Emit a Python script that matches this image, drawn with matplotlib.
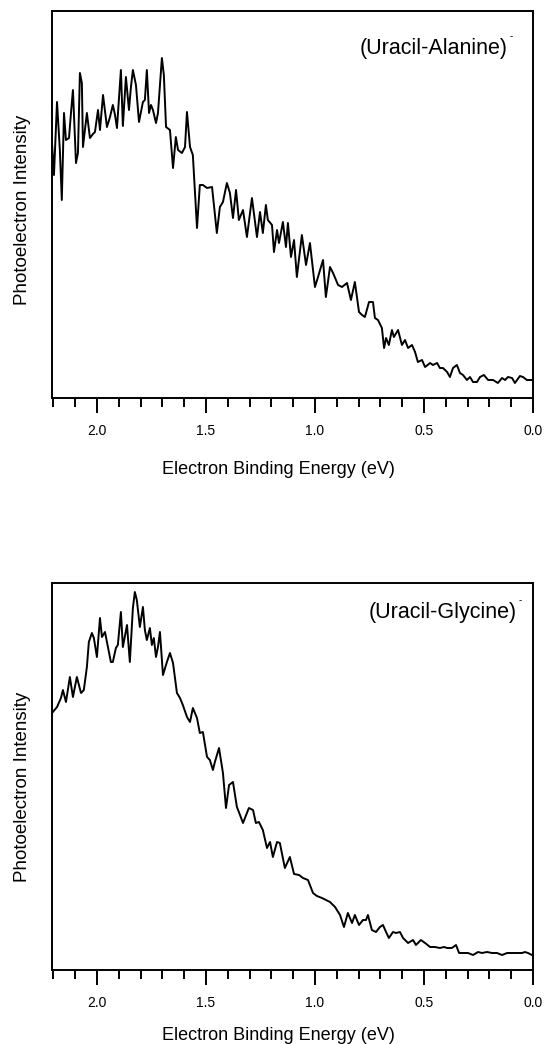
"""
Photoelectron spectra of (Uracil-Alanine)- and (Uracil-Glycine)- anions.
Two stacked panels, binding energy axis reversed (2.2 -> 0 eV).
"""

import matplotlib
matplotlib.use('Agg')
import matplotlib.pyplot as plt
from matplotlib.ticker import MultipleLocator

plt.rcParams['font.family'] = ['Liberation Sans', 'DejaVu Sans']

# ── Data (intensity in arbitrary units) ──────────────────────────
ala_energy = [
    2.206, 2.197, 2.183, 2.170, 2.161, 2.151, 2.142, 2.128, 2.119, 2.110,
    2.096, 2.087, 2.078, 2.069, 2.064, 2.046, 2.032, 2.018, 2.009, 1.995,
    1.986, 1.972, 1.954, 1.940, 1.927, 1.917, 1.908, 1.890, 1.881, 1.867,
    1.853, 1.844, 1.835, 1.821, 1.807, 1.789, 1.780, 1.771, 1.761, 1.752,
    1.743, 1.729, 1.720, 1.702, 1.693, 1.683, 1.665, 1.651, 1.638, 1.628,
    1.610, 1.596, 1.587, 1.573, 1.560, 1.541, 1.528, 1.514, 1.495, 1.472,
    1.450, 1.436, 1.422, 1.404, 1.390, 1.376, 1.362, 1.349, 1.330, 1.312,
    1.289, 1.266, 1.252, 1.239, 1.225, 1.216, 1.197, 1.188, 1.174, 1.165,
    1.147, 1.133, 1.124, 1.110, 1.096, 1.083, 1.060, 1.041, 1.023, 1.000,
    0.986, 0.963, 0.950, 0.931, 0.917, 0.894, 0.876, 0.853, 0.835, 0.817,
    0.798, 0.784, 0.771, 0.752, 0.734, 0.725, 0.711, 0.693, 0.683, 0.674,
    0.661, 0.647, 0.638, 0.619, 0.601, 0.587, 0.573, 0.555, 0.541, 0.528,
    0.509, 0.495, 0.472, 0.459, 0.440, 0.427, 0.413, 0.394, 0.381, 0.367,
    0.349, 0.335, 0.321, 0.303, 0.289, 0.275, 0.257, 0.243, 0.225, 0.206,
    0.183, 0.161, 0.142, 0.128, 0.115, 0.096, 0.083, 0.060, 0.046, 0.028,
    0.005,
]
ala_intensity = [
    255, 223, 296, 248, 198, 285, 258, 260, 285, 308,
    235, 245, 325, 315, 251, 285, 260, 264, 266, 288,
    268, 303, 271, 281, 293, 283, 270, 328, 272, 321,
    288, 311, 328, 313, 276, 296, 298, 328, 285, 293,
    288, 275, 285, 340, 323, 271, 268, 230, 261, 248,
    245, 251, 286, 251, 243, 170, 213, 213, 210, 211,
    165, 191, 196, 215, 205, 180, 208, 178, 188, 161,
    200, 161, 186, 165, 193, 178, 173, 146, 168, 155,
    176, 151, 175, 141, 158, 121, 163, 133, 155, 111,
    121, 138, 101, 131, 125, 113, 111, 115, 98, 116,
    86, 83, 81, 96, 96, 80, 78, 70, 50, 60,
    53, 68, 61, 68, 53, 58, 50, 53, 46, 36,
    38, 31, 35, 33, 35, 30, 30, 26, 21, 30,
    33, 25, 23, 18, 21, 16, 16, 21, 23, 18,
    18, 15, 20, 18, 21, 20, 15, 22, 21, 18,
    18,
]

gly_energy = [
    2.206, 2.183, 2.165, 2.156, 2.142, 2.124, 2.110, 2.092, 2.073, 2.060,
    2.046, 2.037, 2.023, 2.014, 2.000, 1.986, 1.977, 1.963, 1.954, 1.936,
    1.927, 1.913, 1.904, 1.890, 1.881, 1.862, 1.849, 1.835, 1.826, 1.817,
    1.803, 1.789, 1.780, 1.771, 1.757, 1.748, 1.739, 1.729, 1.720, 1.711,
    1.697, 1.679, 1.665, 1.651, 1.633, 1.619, 1.606, 1.587, 1.573, 1.560,
    1.541, 1.528, 1.514, 1.495, 1.482, 1.468, 1.459, 1.440, 1.422, 1.408,
    1.394, 1.376, 1.358, 1.349, 1.330, 1.312, 1.303, 1.284, 1.271, 1.257,
    1.239, 1.220, 1.206, 1.193, 1.174, 1.161, 1.138, 1.115, 1.096, 1.073,
    1.055, 1.032, 1.009, 0.991, 0.968, 0.950, 0.931, 0.908, 0.885, 0.867,
    0.849, 0.830, 0.817, 0.798, 0.780, 0.766, 0.757, 0.739, 0.720, 0.702,
    0.688, 0.674, 0.661, 0.642, 0.628, 0.610, 0.596, 0.573, 0.550, 0.537,
    0.514, 0.495, 0.472, 0.450, 0.427, 0.408, 0.394, 0.372, 0.353, 0.339,
    0.321, 0.298, 0.275, 0.252, 0.234, 0.211, 0.188, 0.165, 0.142, 0.119,
    0.096, 0.073, 0.050, 0.037, 0.023, 0.005,
]
gly_intensity = [
    257, 263, 272, 280, 268, 293, 273, 293, 277, 280,
    303, 328, 337, 332, 313, 352, 333, 338, 328, 308,
    308, 322, 325, 358, 323, 345, 308, 362, 378, 370,
    343, 363, 340, 330, 342, 325, 332, 313, 323, 338,
    295, 308, 317, 307, 277, 272, 265, 253, 248, 262,
    252, 237, 238, 213, 210, 200, 208, 222, 197, 162,
    185, 188, 163, 158, 147, 157, 162, 160, 147, 148,
    140, 122, 128, 113, 128, 127, 102, 113, 96, 95,
    92, 90, 77, 74, 72, 70, 68, 63, 55, 43,
    57, 47, 55, 45, 50, 50, 55, 40, 38, 43,
    45, 38, 32, 38, 37, 38, 32, 27, 30, 25,
    30, 27, 23, 23, 22, 23, 22, 22, 25, 17,
    17, 17, 15, 18, 17, 18, 17, 17, 15, 17,
    17, 17, 17, 18, 17, 15,
]

# (energy, intensity, label, label position, xlabel y, ylabel y)
panels = [
    (ala_energy, ala_intensity, '(Uracil-Alanine)', (0.948, 0.904), -0.162, 0.486),
    (gly_energy, gly_intensity, '(Uracil-Glycine)', (0.967, 0.925), -0.146, 0.473),
]

# ── Figure ──────────────────────────────────────────────────────
W, H = 546, 1044
fig = plt.figure(figsize=(W / 100, H / 100), dpi=100)
fig.patch.set_facecolor('white')

# axes boxes in pixels: (left, top, right, bottom)
boxes = [(52, 11, 533, 398), (52, 583, 533, 970)]

for (energy, intensity, label, lpos, xl_y, yl_y), (l, t, r, b) in zip(panels, boxes):
    ax = fig.add_axes([l / W, 1 - b / H, (r - l) / W, (b - t) / H])
    ax.plot(energy, intensity, color='black', linewidth=1.4)

    ax.set_xlim(2.206, 0.0)
    ax.set_ylim(0, 387)

    ax.xaxis.set_major_locator(MultipleLocator(0.5))
    ax.xaxis.set_minor_locator(MultipleLocator(0.1))
    ax.xaxis.set_major_formatter(plt.FuncFormatter(lambda v, p: f'{v:.1f}'))
    ax.tick_params(axis='x', which='major', direction='out', length=11,
                   width=1.4, pad=8, labelsize=10)
    ax.tick_params(axis='x', which='minor', direction='out', length=6.5,
                   width=1.4)
    ax.tick_params(axis='y', which='both', left=False, labelleft=False)

    for s in ax.spines.values():
        s.set_linewidth(1.4)

    ax.set_xlabel('Electron Binding Energy (eV)', fontsize=13)
    ax.xaxis.set_label_coords(0.47, xl_y)
    ax.set_ylabel('Photoelectron Intensity', fontsize=13.5)
    ax.yaxis.set_label_coords(-0.044, yl_y)

    # species label with a small superscript minus
    ax.text(lpos[0], lpos[1], label, transform=ax.transAxes,
            ha='right', va='center', fontsize=15.5)
    ax.text(lpos[0] + 0.004, lpos[1] + 0.018, '-', transform=ax.transAxes,
            ha='left', va='bottom', fontsize=7)

fig.savefig('out.png', dpi=100, facecolor='white')
plt.close(fig)
